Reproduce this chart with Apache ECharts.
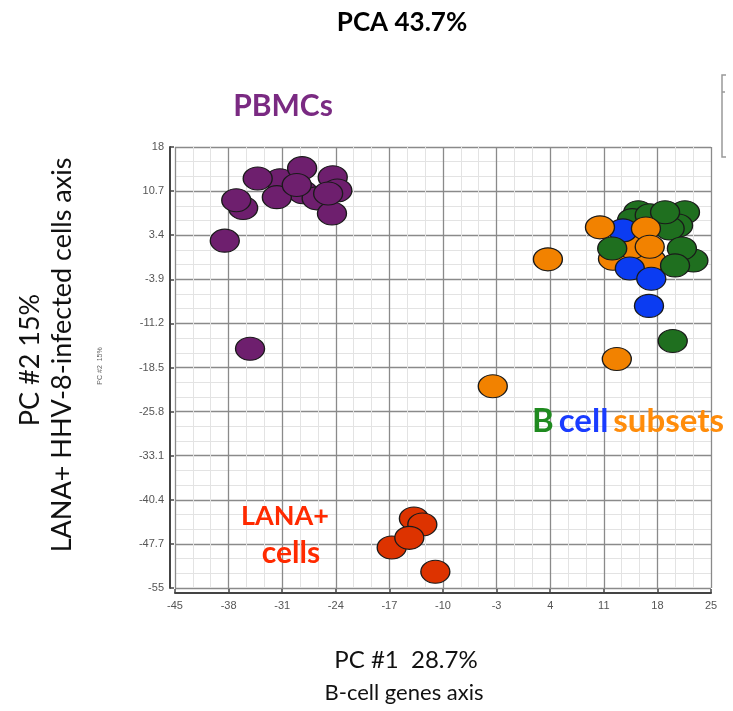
<!DOCTYPE html>
<html><head><meta charset="utf-8">
<script src="https://cdn.jsdelivr.net/npm/echarts@6/dist/echarts.min.js"></script>
<style>html,body{margin:0;padding:0;background:#fff}#c{width:733px;height:711px}</style>
</head><body><div id="c"></div>
<script>
// Tick labels
const xTicks = [-45, -38, -31, -24, -17, -10, -3, 4, 11, 18, 25];
const yTicks = [-55, -47.7, -40.4, -33.1, -25.8, -18.5, -11.2, -3.9, 3.4, 10.7, 18];

// Series values [PC1, PC2]
const pbmc = [[-31.3,12.5],[-28.3,10.5],[-26.5,9.5],[-28.4,14.5],[-34.2,12.8],[-31.7,9.7],[-29.1,11.7],[-24.4,13.0],[-23.8,10.8],[-24.5,7.0],[-25.0,10.3],[-36.1,7.9],[-37.0,9.2],[-38.5,2.5],[-35.2,-15.4]];
const lana = [[-13.8,-43.5],[-12.7,-44.5],[-16.7,-48.3],[-14.4,-46.7],[-11.0,-52.3]];
const greenBack = [[15.5,7.2],[14.7,5.9],[17.0,6.7],[21.6,7.2],[20.7,5.0],[19.6,4.5],[19.0,7.2],[20.0,-14.1]];
const orangeBack = [[12.2,-0.5],[17.2,-0.8],[14.7,1.4]];
const blue = [[13.5,4.2],[14.4,-2.1],[17.2,-3.8],[16.9,-8.3]];
const orangeFront = [[10.5,4.7],[16.5,4.5],[17.0,1.5],[3.7,-0.6],[12.7,-17.1],[-3.5,-21.6]];
const greenFront = [[12.1,1.2],[22.7,-0.8],[21.2,1.2],[20.3,-1.6]];

const X0 = xTicks[0], Y0 = yTicks[0];
const xStep = xTicks[1] - xTicks[0];
const yStep = Math.round((yTicks[1] - yTicks[0]) * 10) / 10;
const xSpan = xTicks[xTicks.length - 1] - X0;
const ySpan = yTicks[yTicks.length - 1] - Y0;
const shift = arr => arr.map(p => [p[0] - X0, p[1] - Y0]);
const fmt = v => String(Math.round(v * 10) / 10);

function sc(name, data, color) {
  return {
    name, type: 'scatter', data: shift(data), symbol: 'circle', symbolSize: [29, 23],
    itemStyle: { color, borderColor: '#1a1a1a', borderWidth: 1.2, opacity: 1 },
    emphasis: { disabled: true }, silent: true
  };
}

const axisCommon = {
  type: 'value',
  axisLine: { show: true, onZero: false, lineStyle: { color: '#444', width: 2 } },
  axisTick: { show: true, inside: true, length: 4, lineStyle: { color: '#444', width: 1.5 } },
  splitLine: { show: true, lineStyle: { color: '#8a8a8a', width: 1.3 } },
  minorTick: { show: false, splitNumber: 3 },
  minorSplitLine: { show: true, lineStyle: { color: '#e3e3e3', width: 1 } }
};

function txt(x, y, text, font, fill, rot) {
  return { type: 'text', x, y, z: 100, rotation: rot || 0,
    style: { text, font, fill, align: 'center', verticalAlign: 'middle', textAlign: 'center', textVerticalAlign: 'middle' } };
}

const chart = echarts.init(document.getElementById('c'));
chart.setOption({
  animation: false,
  backgroundColor: '#fff',
  grid: { left: 175, right: 22, top: 147, bottom: 123, containLabel: false },
  xAxis: Object.assign({}, axisCommon, {
    min: 0, max: xSpan, interval: xStep, offset: 5,
    axisLabel: { formatter: v => fmt(v + X0), fontSize: 11, color: '#555', margin: 7, fontFamily: 'Liberation Sans' }
  }),
  yAxis: Object.assign({}, axisCommon, {
    min: 0, max: ySpan, interval: yStep, offset: 5,
    axisLabel: { formatter: v => fmt(v + Y0), fontSize: 11, color: '#555', margin: 6, fontFamily: 'Liberation Sans' }
  }),
  title: {
    text: '{g|B} {b|cell} {o|subsets}', left: 527, top: 400, z: 100,
    textStyle: { rich: {
      g: { color: '#1f8a1f', fontSize: 33, fontWeight: 'bold', fontFamily: 'Lato' },
      b: { color: '#1a3cff', fontSize: 33, fontWeight: 'bold', fontFamily: 'Lato' },
      o: { color: '#ff8c0a', fontSize: 33, fontWeight: 'bold', fontFamily: 'Lato' }
    } }
  },
  series: [
    sc('PBMCs', pbmc, '#6e1f6e'),
    sc('LANA+ cells', lana, '#dd3300'),
    sc('B cells green', greenBack, '#1f6f1f'),
    sc('B cells orange back', orangeBack, '#f28200'),
    sc('B cells blue', blue, '#0b3cf2'),
    sc('B cells orange', orangeFront, '#f28200'),
    sc('B cells green front', greenFront, '#1f6f1f')
  ],
  graphic: [
    txt(402, 23, 'PCA 43.7%', 'bold 26px Lato', '#000'),
    txt(283, 106, 'PBMCs', 'bold 30px Lato', '#7a2a82'),
    txt(285, 516, 'LANA+', 'bold 27px Lato', '#ff2a00'),
    txt(291, 553, 'cells', 'bold 30px Lato', '#ff2a00'),
    txt(406, 660, 'PC #1  28.7%', '24px Lato', '#111'),
    txt(404, 693, 'B-cell genes axis', '22px Lato', '#111'),
    txt(30, 360, 'PC #2 15%', '27px Lato', '#111', Math.PI / 2),
    txt(62, 355, 'LANA+ HHV-8-infected cells axis', '27px Lato', '#111', Math.PI / 2),
    txt(100, 366, 'PC #2  15%', '7px Liberation Sans', '#666', Math.PI / 2),
    { type: 'polyline', shape: { points: [[726, 75], [722, 75], [722, 157], [726, 157]] }, style: { stroke: '#999', lineWidth: 1.5, fill: null } },
    { type: 'line', shape: { x1: 722, y1: 92, x2: 725, y2: 92 }, style: { stroke: '#999', lineWidth: 1.5 } }
  ]
});
</script>
</body></html>
